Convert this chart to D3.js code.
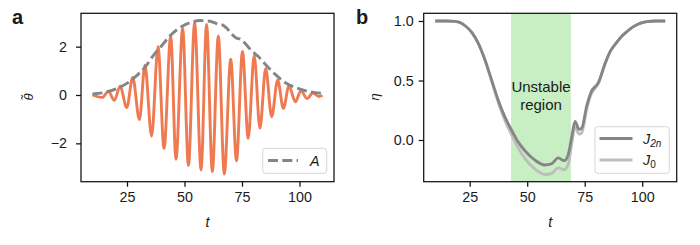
<!DOCTYPE html>
<html>
<head>
<meta charset="utf-8">
<script src="https://cdn.jsdelivr.net/npm/d3@7"></script>
<style>
  html, body { margin: 0; padding: 0; background: #fff; }
  svg { display: block; }
  text { font-family: "Liberation Sans", Arial, Helvetica, sans-serif; fill: #1a1a1a; }
</style>
</head>
<body>
<svg id="chart" width="700" height="245"></svg>
<script>
// ---------- Data ----------
// Panel a: oscillation extrema of theta~(t)
const thetaT = [10, 14.3, 16.9, 19.5, 22.0, 24.9, 27.5, 30.4, 32.8, 35.7, 38.5, 41.1, 44.0, 46.3, 49.2, 51.7, 54.4, 57.2, 59.6, 62.1, 64.7, 67.3, 70.1, 72.6, 75.2, 77.7, 80.3, 82.8, 85.3, 87.9, 90.5, 93.0, 95.4, 98.2, 100.6, 103.3, 105.8, 108.4, 110];
const thetaV = [0, -0.10, 0.15, -0.22, 0.36, -0.52, 0.73, -1.02, 1.23, -1.70, 2.00, -2.21, 2.44, -2.66, 2.76, -2.92, 3.00, -3.10, 2.92, -3.17, 2.44, -3.27, 1.48, -2.72, 1.80, -1.79, 1.64, -1.38, 1.10, -0.90, 0.62, -0.55, 0.37, -0.28, 0.18, -0.15, 0.08, -0.06, -0.02];
// Panel a: envelope A(t)
const envT = [10, 15.4, 21.2, 25.6, 29.2, 32.8, 36.4, 40.1, 43.7, 48.8, 53.1, 56.7, 61.1, 64.2, 66.5, 68.5, 70.5, 72.5, 74.5, 76.3, 79.2, 82.1, 85.7, 89.3, 93.7, 98.0, 102.4, 106.7, 110];
const envA = [0.04, 0.11, 0.29, 0.52, 0.80, 1.14, 1.63, 2.04, 2.45, 2.83, 3.01, 3.08, 3.05, 2.95, 2.90, 2.75, 2.52, 2.36, 2.30, 2.14, 1.83, 1.59, 1.21, 0.87, 0.52, 0.32, 0.18, 0.10, 0.07];
// Panel b: eta(t) for the two series
const etaT   = [10, 15, 18.6, 21, 23.0, 25.9, 28.8, 31.7, 34.6, 37.5, 40.4, 43.3, 46.2, 49.0, 53.4, 57.7, 60.6, 63.5, 66.1, 67.9, 69.3, 70.8, 72.5, 73.7, 75.9, 77.7, 81.0, 83.8, 86.0, 88.5, 91.0, 93.3, 96.0, 99.0, 102.0, 106.0, 110];
const etaJ2n = [1.0, 1.0, 0.997, 0.985, 0.96, 0.905, 0.81, 0.67, 0.50, 0.33, 0.19, 0.08, -0.02, -0.09, -0.17, -0.21, -0.20, -0.151, -0.174, -0.118, 0.02, 0.157, 0.09, 0.10, 0.29, 0.40, 0.485, 0.64, 0.74, 0.81, 0.87, 0.91, 0.95, 0.98, 0.995, 1.0, 1.0];
const etaJ0  = [1.0, 1.0, 0.997, 0.985, 0.96, 0.905, 0.81, 0.668, 0.49, 0.31, 0.16, 0.04, -0.07, -0.155, -0.245, -0.29, -0.28, -0.235, -0.25, -0.20, -0.04, 0.11, 0.05, 0.06, 0.26, 0.38, 0.475, 0.635, 0.74, 0.81, 0.87, 0.91, 0.95, 0.98, 0.995, 1.0, 1.0];
// Unstable region bounds
const unstable = [43, 69];
// Ticks
const xTicks = [25, 50, 75, 100];
const aYTicks = [-2, 0, 2];
const bYTicks = [0.0, 0.5, 1.0];

// ---------- Drawing ----------
const svg = d3.select("#chart");
svg.append("rect").attr("width", 700).attr("height", 245).attr("fill", "#fff");

const yTop = 13.3, yBot = 181.7;

function frame(g, x0, x1) {
  g.append("rect").attr("x", x0).attr("y", yTop).attr("width", x1 - x0).attr("height", yBot - yTop)
    .attr("fill", "none").attr("stroke", "#111").attr("stroke-width", 1.25);
}
function styleAxis(sel) {
  sel.select(".domain").remove();
  sel.selectAll(".tick line").attr("stroke", "#111").attr("stroke-width", 1.25);
  sel.selectAll(".tick text").attr("font-size", 14.3).attr("fill", "#111")
     .attr("font-family", "'Liberation Sans', Arial, sans-serif");
}

// ----- Panel a -----
const ax0 = 81, ax1 = 334;
const xa = d3.scaleLinear().domain([5, 115]).range([ax0, ax1]);
const ya = d3.scaleLinear().domain([-3.587, 3.38]).range([yBot, yTop]);
const ga = svg.append("g");

ga.append("path")
  .datum(thetaT.map((t, i) => [t, thetaV[i]]))
  .attr("d", d3.line().x(d => xa(d[0])).y(d => ya(d[1])).curve(d3.curveMonotoneX))
  .attr("fill", "none").attr("stroke", "#ef7a51").attr("stroke-width", 2.9);

ga.append("path")
  .datum(envT.map((t, i) => [t, envA[i]]))
  .attr("d", d3.line().x(d => xa(d[0])).y(d => ya(d[1])).curve(d3.curveMonotoneX))
  .attr("fill", "none").attr("stroke", "#858585").attr("stroke-width", 2.9)
  .attr("stroke-dasharray", "10 4.3");

frame(ga, ax0, ax1);

const xAxA = ga.append("g").attr("transform", `translate(0,${yBot})`)
  .call(d3.axisBottom(xa).tickValues(xTicks).tickSize(5).tickPadding(5).tickFormat(d3.format("d")));
styleAxis(xAxA);
const yAxA = ga.append("g").attr("transform", `translate(${ax0},0)`)
  .call(d3.axisLeft(ya).tickValues(aYTicks).tickSize(5).tickPadding(9).tickFormat(d => d < 0 ? "\u2212" + Math.abs(d) : String(d)));
styleAxis(yAxA);

ga.append("text").attr("x", (ax0 + ax1) / 2).attr("y", 226.5).attr("text-anchor", "middle")
  .attr("font-size", 14.3).attr("font-style", "italic").text("t");
ga.append("text").attr("transform", "translate(33,97) rotate(-90)").attr("text-anchor", "middle")
  .attr("font-size", 13).attr("font-style", "italic").text("\u03B8\u0303");

// legend a
ga.append("rect").attr("x", 262.7).attr("y", 148.3).attr("width", 64).attr("height", 25).attr("rx", 3)
  .attr("fill", "#fff").attr("fill-opacity", 0.8).attr("stroke", "#d6d6d6").attr("stroke-width", 1);
ga.append("line").attr("x1", 268).attr("x2", 298).attr("y1", 160.5).attr("y2", 160.5)
  .attr("stroke", "#858585").attr("stroke-width", 2.9).attr("stroke-dasharray", "10 4.3");
ga.append("text").attr("x", 310).attr("y", 165.5).attr("font-size", 14.3).attr("font-style", "italic").text("A");

svg.append("text").attr("x", 12).attr("y", 24).attr("font-size", 20).attr("font-weight", "bold").text("a");

// ----- Panel b -----
const bx0 = 423.7, bx1 = 676.7;
const xb = d3.scaleLinear().domain([5, 115]).range([bx0, bx1]);
const yb = d3.scaleLinear().domain([-0.3504, 1.0647]).range([yBot, yTop]);
const gb = svg.append("g");

gb.append("rect").attr("x", xb(unstable[0])).attr("y", yTop).attr("width", xb(unstable[1]) - xb(unstable[0]))
  .attr("height", yBot - yTop).attr("fill", "#c8eec4");

gb.append("text").attr("x", xb((unstable[0] + unstable[1]) / 2)).attr("y", 91.5).attr("text-anchor", "middle")
  .attr("font-size", 15).attr("fill", "#111").text("Unstable");
gb.append("text").attr("x", xb((unstable[0] + unstable[1]) / 2)).attr("y", 110).attr("text-anchor", "middle")
  .attr("font-size", 15).attr("fill", "#111").text("region");

const lineB = d3.line().x(d => xb(d[0])).y(d => yb(d[1])).curve(d3.curveMonotoneX);
gb.append("path").datum(etaT.map((t, i) => [t, etaJ0[i]])).attr("d", lineB)
  .attr("fill", "none").attr("stroke", "#bdbdbd").attr("stroke-width", 2.8);
gb.append("path").datum(etaT.map((t, i) => [t, etaJ2n[i]])).attr("d", lineB)
  .attr("fill", "none").attr("stroke", "#858585").attr("stroke-width", 2.8);

frame(gb, bx0, bx1);

const xAxB = gb.append("g").attr("transform", `translate(0,${yBot})`)
  .call(d3.axisBottom(xb).tickValues(xTicks).tickSize(5).tickPadding(5).tickFormat(d3.format("d")));
styleAxis(xAxB);
const yAxB = gb.append("g").attr("transform", `translate(${bx0},0)`)
  .call(d3.axisLeft(yb).tickValues(bYTicks).tickSize(5).tickPadding(5).tickFormat(d3.format(".1f")));
styleAxis(yAxB);

gb.append("text").attr("x", (bx0 + bx1) / 2).attr("y", 226.5).attr("text-anchor", "middle")
  .attr("font-size", 14.3).attr("font-style", "italic").text("t");
gb.append("text").attr("transform", "translate(379,97) rotate(-90)").attr("text-anchor", "middle")
  .attr("font-size", 13).attr("font-style", "italic").text("\u03B7");

// legend b
gb.append("rect").attr("x", 595).attr("y", 126.7).attr("width", 74.3).attr("height", 46.6).attr("rx", 3)
  .attr("fill", "#fff").attr("fill-opacity", 0.8).attr("stroke", "#d6d6d6").attr("stroke-width", 1);
gb.append("line").attr("x1", 599.5).attr("x2", 632.5).attr("y1", 138.5).attr("y2", 138.5)
  .attr("stroke", "#858585").attr("stroke-width", 2.8);
gb.append("line").attr("x1", 599.5).attr("x2", 632.5).attr("y1", 160).attr("y2", 160)
  .attr("stroke", "#bdbdbd").attr("stroke-width", 2.8);
const t1 = gb.append("text").attr("x", 643).attr("y", 143.5).attr("font-size", 14.3).attr("font-style", "italic");
t1.append("tspan").text("J");
t1.append("tspan").attr("font-size", 10).attr("dy", 3).text("2");
t1.append("tspan").attr("font-size", 10).text("n");
const t2 = gb.append("text").attr("x", 643).attr("y", 165).attr("font-size", 14.3).attr("font-style", "italic");
t2.append("tspan").text("J");
t2.append("tspan").attr("font-size", 10).attr("dy", 3).attr("font-style", "normal").text("0");

svg.append("text").attr("x", 356).attr("y", 24).attr("font-size", 20).attr("font-weight", "bold").text("b");
</script>
</body>
</html>
